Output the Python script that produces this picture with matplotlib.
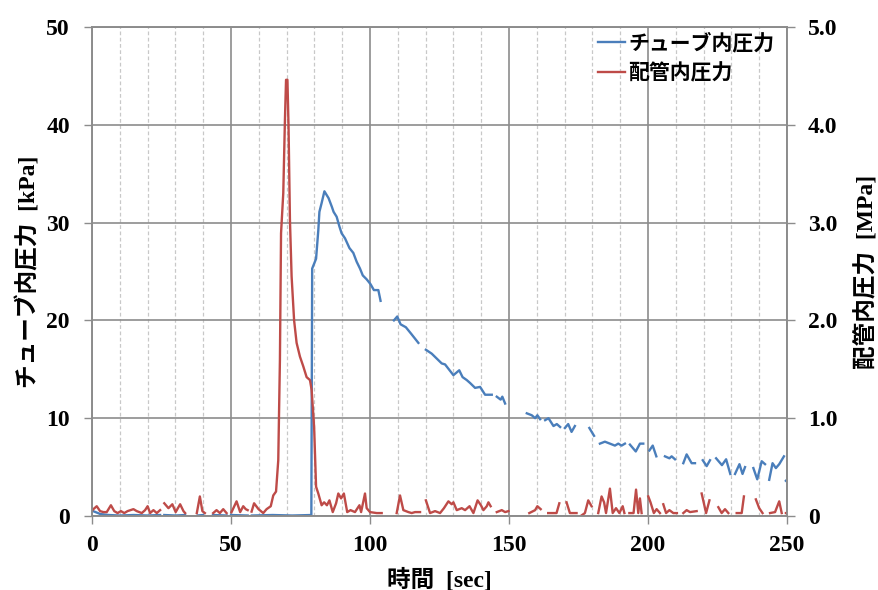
import numpy as np
import matplotlib
matplotlib.use("Agg")
import matplotlib.pyplot as plt
from matplotlib.ticker import MultipleLocator

nan = np.nan

# チューブ内圧力 [kPa]  (nan = 欠測で線が切れる所)
tube_t = [0.4, 3, 6, 10, 15, 20, 24.5, nan,
          26, 30, 33.5, nan, 38, 40, nan, 43.5, 48.5, nan, 50, 56, nan,
          57.5, 65, 72, 78.9, 79.2, 80.6, 81.4, 81.8, 82.6, 83.6, 85.1, 86.3, 86.9,
          88, 89, 89.8, 91, 92.6, 94, 95.2, 96.4, 97.4, 98.8, 100.2, 101.4, 103, 103.8, nan,
          108.6, 109.8, 111, 112.9, 114.9, 117.4, nan,
          120.1, 122.2, 124, 125.8, 127, 130, 132.1, 133.3, 134.8, 136, 137.8, 139.6,
          141.4, 143.8, nan, 145.6, 147, 147.6, 148.6, nan,
          156.4, 158.2, 159.4, 160.2, 161.2, nan, 163, 164.2, 166, 167.2, 168.4, nan,
          170.1, 171.3, 172.5, 173.7, nan, 178.9, 180.6, nan,
          182.7, 184.5, 186.3, 188.1, 189.3, 190.5, 191.7, nan,
          193.5, 195.6, 197.1, 198.3, nan, 200.5, 201.7, 203, nan,
          206.1, 207.7, 208.5, 209.7, nan, 212.7, 213.9, 215.7, 216.9, nan,
          219.7, 221.1, 222.3, nan, 224.5, 226.6, 228.1, 229.6, nan,
          231.3, 232.9, 234, 234.9, nan, 237.9, 239.3, 240.9, 242.1, nan,
          243.6, 244.8, 246, 247.2, 248.9, nan, 249.6, 250]
tube_p = [0.5, 0.2, 0.1, 0.05, 0.1, 0.05, 0.1, nan,
          0.1, 0.05, 0.1, nan, 0.05, 0.1, nan, 0.1, 0.05, nan, 0.1, 0.05, nan,
          0.05, 0.1, 0.05, 0.1, 25.3, 26.3, 29.2, 31.1, 32.0, 33.2, 32.5, 31.6, 31.1,
          30.6, 29.6, 28.9, 28.4, 27.4, 26.9, 26.0, 25.3, 24.6, 24.2, 23.7, 23.1, 23.1, 22.0, nan,
          20.0, 20.4, 19.6, 19.3, 18.6, 17.7, nan,
          17.0, 16.6, 16.1, 15.6, 15.5, 14.4, 14.9, 14.2, 13.9, 13.6, 13.1, 13.2,
          12.4, 12.4, nan, 12.2, 11.9, 12.2, 11.5, nan,
          10.5, 10.3, 10.0, 10.3, 9.9, nan, 9.8, 10.0, 9.2, 9.4, 9.1, nan,
          9.0, 9.4, 8.6, 9.2, nan, 9.0, 8.2, nan,
          7.4, 7.6, 7.4, 7.2, 7.4, 7.2, 7.4, nan,
          7.3, 6.6, 7.4, 7.4, nan, 6.7, 7.2, 6.1, nan,
          6.1, 5.9, 6.1, 5.8, nan, 5.4, 6.3, 5.4, 5.4, nan,
          5.7, 5.1, 5.7, nan, 5.9, 5.2, 5.8, 4.3, nan,
          4.3, 5.3, 4.3, 5.0, nan, 4.9, 3.75, 5.6, 5.3, nan,
          3.7, 5.4, 4.9, 5.3, 6.1, nan, 3.6, 3.5]

# 配管内圧力 [MPa]
pipe_t = [0.1, 1.7, 2.9, 4.1, 5.3, 6.8, 8, 9.2, 10.4, 11.6, 12.8, 14.9, 16.1, 17.9,
          19.1, 20, 20.9, 22.1, 23.3, 24.5, nan,
          26, 27.5, 28.9, 30.1, 31.7, 32.9, 33.5, nan,
          37.7, 38.8, 39.7, 40.6, nan, 43.6, 44.8, 46, 47.2, 48.4, nan,
          50.2, 52, 53.3, 54.4, 55.3, 56, nan,
          57.4, 58.3, 59.9, 61.6, 62.8, 64.3, 65.2, 66.2, 67, 67.6, 68, 68.8, 69.4, 69.8,
          70.3, 70.7, 71.2, 71.8, 72.7, 73.6, 74.8, 76, 77.2, 78.4, 79, 79.9, 80.6,
          81.4, 82.6, 83.5, 84.5, 85.4, 86.6, 87.8, 88.6, 89.6, 90.6, 91.8, 93, 94.6,
          96.2, 96.8, 98.2, 98.8, 100, 102.4, 104.2, nan,
          109.6, 110.8, 112, 113.8, 115, 116.2, 118, nan,
          120.1, 121.6, 123.4, 125.2, 126.6, 128.2, 129.4, 130, 131.2, 133, 134.2,
          135.8, 137.2, 138.7, 139.9, 140.8, 142, 142.6, 143.4, nan,
          145.6, 147.4, 148.6, 149.8, nan, 157.3, 159.4, 160.2, 161.4, nan,
          164.1, 167.1, 168.1, nan, 170.7, 171.9, 174.3, nan,
          175.8, 177.3, 178.5, 179.7, nan,
          182.1, 183.3, 184.2, 184.9, 186.3, 187.3, 188.5, 189.7, 190.9, 191.5, nan,
          193.3, 194.8, 195.7, 196.5, 197.1, 197.7, nan,
          200.1, 200.9, 202.1, 203.1, 204.3, nan, 205.5, 206.5, 207.7, 209.1, 210.4, nan,
          212.7, 213.9, 215.1, 217.5, nan, 219.3, 220.9, 222.1, nan,
          225.3, 226.5, 227.7, 228.9, nan, 231.9, 233.7, 234.5, nan,
          238.8, 240, 241.2, nan, 243.9, 245.7, 247.2, 248.1, nan, 249.6, 250]
pipe_p = [0.06, 0.1, 0.05, 0.04, 0.04, 0.11, 0.05, 0.03, 0.05, 0.03, 0.05, 0.07, 0.05, 0.03,
          0.06, 0.1, 0.03, 0.06, 0.03, 0.06, nan,
          0.13, 0.08, 0.12, 0.04, 0.12, 0.05, 0.03, nan,
          0.03, 0.2, 0.05, 0.03, nan, 0.03, 0.06, 0.03, 0.07, 0.03, nan,
          0.04, 0.15, 0.04, 0.1, 0.07, 0.06, nan,
          0.045, 0.13, 0.07, 0.03, 0.07, 0.1, 0.21, 0.25, 0.57, 1.6, 2.89, 3.3, 4.05, 4.46,
          4.46, 3.98, 3.03, 2.45, 2.0, 1.77, 1.63, 1.53, 1.42, 1.39, 1.29, 0.91, 0.3,
          0.23, 0.11, 0.14, 0.11, 0.16, 0.04, 0.13, 0.23, 0.18, 0.23, 0.04, 0.06, 0.04,
          0.11, 0.04, 0.23, 0.08, 0.04, 0.03, 0.03, nan,
          0.03, 0.21, 0.06, 0.04, 0.03, 0.04, 0.04, nan,
          0.16, 0.03, 0.05, 0.03, 0.08, 0.15, 0.12, 0.14, 0.06, 0.08, 0.06,
          0.1, 0.03, 0.16, 0.11, 0.06, 0.1, 0.14, 0.1, nan,
          0.04, 0.06, 0.04, 0.05, nan, 0.03, 0.06, 0.1, 0.07, nan,
          0.03, 0.03, 0.13, nan, 0.14, 0.03, 0.03, nan,
          0.0, 0.03, 0.16, 0.1, nan,
          0.03, 0.2, 0.14, 0.03, 0.28, 0.03, 0.08, 0.03, 0.1, 0.03, nan,
          0.03, 0.03, 0.27, 0.03, 0.18, 0.03, nan,
          0.2, 0.14, 0.03, 0.07, 0.03, nan, 0.12, 0.03, 0.06, 0.03, 0.03, nan,
          0.03, 0.06, 0.04, 0.05, nan, 0.23, 0.03, 0.16, nan,
          0.09, 0.03, 0.07, 0.03, nan, 0.03, 0.03, 0.2, nan,
          0.17, 0.08, 0.03, nan, 0.03, 0.04, 0.15, 0.03, nan, 0.03, 0.03]

x_ticks = [0, 50, 100, 150, 200, 250]
left_ticks = [0, 10, 20, 30, 40, 50]
right_ticks = [0, 1, 2, 3, 4, 5]
right_labels = ['0', '1.0', '2.0', '3.0', '4.0', '5.0']

blue = '#4A7EBB'
red = '#BE4B48'
grid_dark = '#8C8C8C'
grid_light = '#C8C8C8'

num_font = {'family': 'Liberation Serif', 'weight': 'bold', 'size': 17}
lab_font = {'family': ['Liberation Serif', 'Noto Sans CJK JP'], 'weight': 'bold', 'size': 17}

fig = plt.figure(figsize=(8.79, 5.90), dpi=100)
ax = fig.add_axes([92 / 879, 74 / 590, 695 / 879, 489 / 590])
ax2 = ax.twinx()

l1, = ax.plot(tube_t, tube_p, color=blue, lw=1.7, label='チューブ内圧力')
l2, = ax2.plot(pipe_t, pipe_p, color=red, lw=1.7, label='配管内圧力')

ax.set_xlim(0, 250)
ax.set_ylim(0, 50)
ax2.set_ylim(0, 5)

ax.set_xticks(x_ticks)
ax.set_xticklabels([str(v) for v in x_ticks], fontdict=num_font)
ax.set_yticks(left_ticks)
ax.set_yticklabels([str(v) for v in left_ticks], fontdict=num_font)
ax2.set_yticks(right_ticks)
ax2.set_yticklabels(right_labels, fontdict=num_font)
ax.xaxis.set_minor_locator(MultipleLocator(10))

ax.tick_params(axis='x', which='major', direction='out', length=6, width=1, color=grid_dark, pad=8)
ax.tick_params(axis='x', which='minor', length=0)
ax.tick_params(axis='y', direction='out', length=6, width=1, color=grid_dark, pad=10)
ax2.tick_params(axis='y', direction='out', length=6, width=1, color=grid_dark, pad=9)

ax.grid(axis='x', which='minor', color=grid_light, ls=(0, (3, 2)), lw=0.9)
ax.grid(axis='x', which='major', color=grid_dark, ls='-', lw=1.2)
ax.grid(axis='y', which='major', color=grid_dark, ls='-', lw=1.2)
ax.set_axisbelow(True)

for a in (ax, ax2):
    for s in a.spines.values():
        s.set_color(grid_dark)
        s.set_linewidth(1.2)

ax.set_xlabel('時間  [sec]', fontdict=lab_font, labelpad=8)
ax.set_ylabel('チューブ内圧力  [kPa]', fontdict=lab_font, labelpad=4)
ax2.set_ylabel('配管内圧力  [MPa]', fontdict=lab_font, labelpad=13, rotation=90)

leg = ax2.legend(handles=[l1, l2], loc='upper right', bbox_to_anchor=(1.0, 1.015),
                 frameon=False, handlelength=1.3, handletextpad=0.15, labelspacing=0.45,
                 borderaxespad=0.2,
                 prop={'family': 'Noto Sans CJK JP', 'weight': 'bold', 'size': 15})

fig.savefig('out.png', dpi=100)
